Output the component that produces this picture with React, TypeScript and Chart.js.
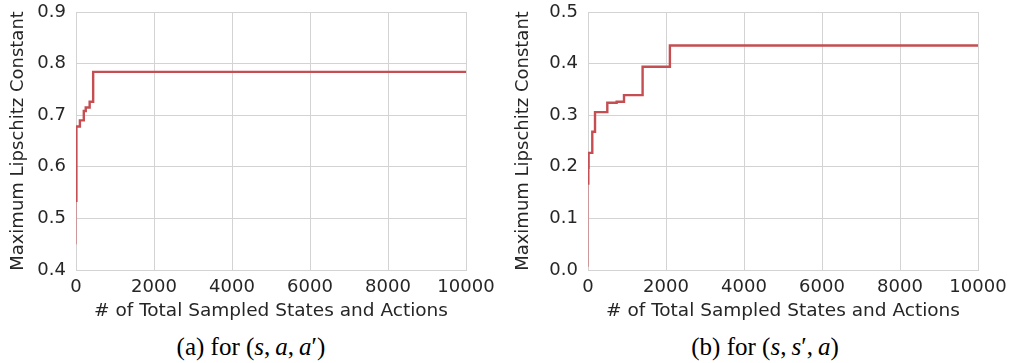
import React, { useEffect, useRef } from "react";
import { Chart, registerables } from "chart.js";

Chart.register(...registerables);

// Each point (x, y): the level y holds until x (starting at the previous x)
// Left panel (a)
const leftX = [0, 10, 100, 200, 250, 350, 440, 10000];
const leftY = [0.45, 0.532, 0.678, 0.69, 0.708, 0.715, 0.726, 0.784];

// Right panel (b)
const rightX = [0, 8, 15, 110, 180, 495, 735, 923, 1400, 2100, 10000];
const rightY = [0.0065, 0.165, 0.198, 0.227, 0.268, 0.306, 0.324, 0.326, 0.339, 0.394, 0.435];

const xTitle = "# of Total Sampled States and Actions";
const yTitle = "Maximum Lipschitz Constant";
const leftRange = [0.4, 0.9];
const rightRange = [0.0, 0.5];

const LINE = "#c44e52";
const GRID = "#d3d3d3";
const TEXT = "#262626";

function makeConfig(xs: number[], ys: number[], range: number[], yWidth: number, padRight: number) {
  const data = xs.map((x, i) => ({ x, y: ys[i] }));
  return {
    type: "line" as const,
    data: {
      datasets: [
        {
          data,
          borderColor: LINE,
          borderWidth: 2.4,
          pointRadius: 0,
          stepped: "after" as const,
          fill: false,
          segment: {
            borderColor: (ctx: any) => (ctx.p0DataIndex === 0 ? "rgba(196,78,82,0.55)" : LINE),
            borderWidth: (ctx: any) => (ctx.p0DataIndex === 0 ? 1.6 : 2.4),
          },
        },
      ],
    },
    options: {
      animation: false as const,
      responsive: false,
      maintainAspectRatio: false,
      layout: { padding: { top: 12, right: padRight, left: 0, bottom: 0 } },
      plugins: { legend: { display: false }, tooltip: { enabled: false } },
      scales: {
        x: {
          type: "linear" as const,
          min: 0,
          max: 10000,
          ticks: {
            stepSize: 2000,
            color: TEXT,
            font: { family: "DejaVu Sans", size: 18 },
            padding: 7,
            maxRotation: 0,
            callback: (v: any) => String(v),
          },
          grid: { color: GRID, lineWidth: 1, drawTicks: false },
          border: { display: true, color: GRID, width: 1 },
          title: {
            display: true,
            text: xTitle,
            color: TEXT,
            font: { family: "DejaVu Sans", size: 18.5 },
            padding: { top: 0, bottom: 0 },
          },
          afterFit: (s: any) => {
            s.height = 52;
            s.paddingLeft = 0;
            s.paddingRight = 0;
          },
        },
        y: {
          type: "linear" as const,
          min: range[0],
          max: range[1],
          ticks: {
            stepSize: 0.1,
            color: TEXT,
            font: { family: "DejaVu Sans", size: 18 },
            padding: 10,
            callback: (v: any) => Number(v).toFixed(1),
          },
          grid: { color: GRID, lineWidth: 1, drawTicks: false },
          border: { display: true, color: GRID, width: 1 },
          title: {
            display: true,
            text: yTitle,
            color: TEXT,
            font: { family: "DejaVu Sans", size: 18 },
            padding: { top: 8, bottom: 0 },
          },
          afterFit: (s: any) => {
            s.width = yWidth;
            s.paddingTop = 0;
            s.paddingBottom = 0;
          },
        },
      },
    },
  };
}

function Panel(props: { xs: number[]; ys: number[]; range: number[]; yWidth: number; padRight: number }) {
  const ref = useRef<HTMLCanvasElement | null>(null);
  useEffect(() => {
    if (!ref.current) return;
    const chart = new Chart(ref.current, makeConfig(props.xs, props.ys, props.range, props.yWidth, props.padRight) as any);
    return () => chart.destroy();
  }, []);
  return <canvas ref={ref} width={505} height={322} style={{ display: "block", width: 505, height: 322 }} />;
}

const capStyle: React.CSSProperties = {
  position: "absolute",
  top: 333,
  lineHeight: "28px",
  fontFamily: "'Liberation Serif', 'Times New Roman', serif",
  fontSize: 25,
  color: "#000",
  whiteSpace: "nowrap",
  transform: "translateX(-50%)",
};

export default function App() {
  return (
    <div style={{ position: "absolute", left: 0, top: 0, width: 1010, height: 363, background: "#fff" }}>
      <div style={{ position: "absolute", left: 0, top: 0 }}>
        <Panel xs={leftX} ys={leftY} range={leftRange} yWidth={76} padRight={39} />
      </div>
      <div style={{ position: "absolute", left: 505, top: 0 }}>
        <Panel xs={rightX} ys={rightY} range={rightRange} yWidth={83} padRight={32} />
      </div>
      <div style={{ ...capStyle, left: 251 }}>
        (a) for (<i>s</i>,{"\u2009"}<i>a</i>,{"\u2009"}<i>a</i>′)
      </div>
      <div style={{ ...capStyle, left: 765 }}>
        (b) for (<i>s</i>,{"\u2009"}<i>s</i>′,{"\u2009"}<i>a</i>)
      </div>
    </div>
  );
}
